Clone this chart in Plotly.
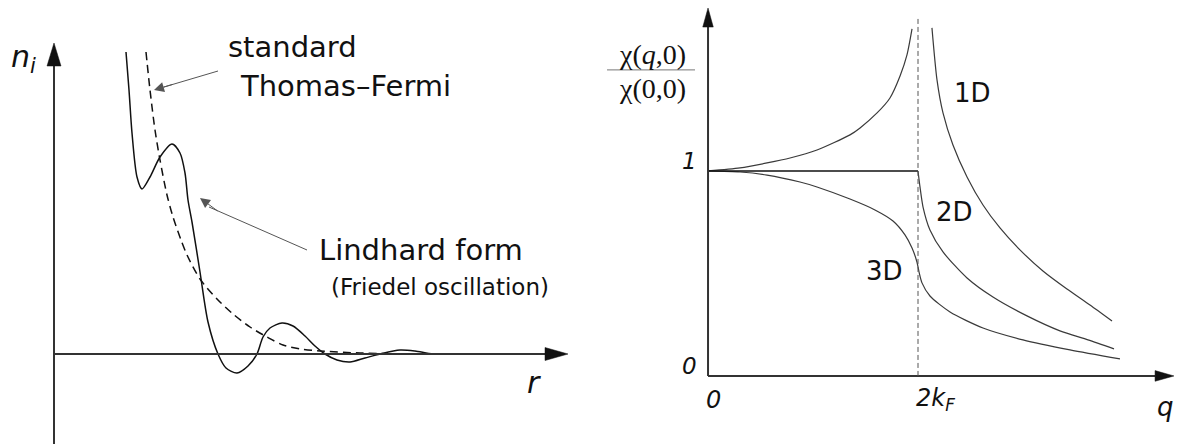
import plotly.graph_objects as go

# ---------------- left panel: induced density n_i(r) ----------------
lind_r = [1.44, 1.50, 1.56, 1.66, 1.76, 1.92, 2.12, 2.36, 2.52, 2.62, 2.68, 2.76,
          2.92, 3.08, 3.28, 3.44, 3.66, 3.88, 4.06, 4.18, 4.32, 4.56, 4.78, 5.02,
          5.22, 5.42, 5.66, 5.92, 6.22, 6.52, 6.92, 7.22, 7.58, 8.12]
lind_n = [3.02, 2.64, 2.21, 1.77, 1.65, 1.77, 1.97, 2.10, 2.01, 1.81, 1.54, 1.32,
          0.82, 0.32, 0.00, -0.14, -0.19, -0.12, 0.00, 0.17, 0.26, 0.31, 0.28, 0.18,
          0.08, 0.00, -0.06, -0.08, -0.04, 0.00, 0.04, 0.03, 0.00, 0.00]

tf_r = [1.84, 1.92, 2.02, 2.12, 2.26, 2.38, 2.54, 2.66, 2.92, 3.26, 3.58, 3.92,
        4.26, 4.58, 4.92, 5.32, 6.12, 6.92]
tf_n = [3.02, 2.64, 2.24, 1.94, 1.59, 1.37, 1.14, 0.99, 0.75, 0.55, 0.40, 0.27,
        0.17, 0.09, 0.05, 0.03, 0.01, 0.00]

# ---------------- right panel: static susceptibility chi(q,0)/chi(0,0) ----------------
d1_left_q = [0.0, 0.305, 0.562, 0.781, 1.038, 1.352, 1.448, 1.610, 1.733, 1.829, 1.895, 1.943]
d1_left_y = [1.0, 1.015, 1.039, 1.063, 1.102, 1.176, 1.210, 1.283, 1.356, 1.463, 1.566, 1.693]
d1_right_q = [2.133, 2.181, 2.238, 2.333, 2.467, 2.619, 2.781, 2.971, 3.190, 3.419, 3.638, 3.848]
d1_right_y = [1.698, 1.444, 1.283, 1.127, 0.971, 0.834, 0.722, 0.615, 0.512, 0.424, 0.346, 0.268]

d2_flat_q = [0.0, 2.0]
d2_flat_y = [1.0, 1.0]
d2_q = [2.0, 2.019, 2.048, 2.114, 2.238, 2.467, 2.714, 3.038, 3.352, 3.619, 3.867]
d2_y = [1.0, 0.922, 0.824, 0.712, 0.605, 0.478, 0.385, 0.293, 0.220, 0.176, 0.132]

d3_q = [0.0, 0.305, 0.562, 0.876, 1.038, 1.352, 1.590, 1.762, 1.876, 1.943, 1.990,
        2.010, 2.038, 2.114, 2.305, 2.619, 3.0, 3.448, 3.924]
d3_y = [1.0, 0.995, 0.980, 0.946, 0.922, 0.863, 0.810, 0.756, 0.688, 0.624, 0.556,
        0.507, 0.454, 0.390, 0.312, 0.234, 0.176, 0.127, 0.083]

q_ticks = [0, 2]
q_tick_text = ["<i>0</i>", "<i>2k<sub>F</sub></i>"]
chi_ticks = [0, 1]
chi_tick_text = ["<i>0</i>", "<i>1</i>"]

W, H = 1177, 444
SANS = "DejaVu Sans"
SERIF = "Liberation Serif"
AX = "#333333"

fig = go.Figure()

# left curves
fig.add_trace(go.Scatter(x=tf_r, y=tf_n, mode="lines", xaxis="x", yaxis="y",
                         line=dict(color="#111111", width=1.5, dash="8px,5px", shape="spline", smoothing=0.8),
                         hoverinfo="skip", cliponaxis=False))
fig.add_trace(go.Scatter(x=lind_r, y=lind_n, mode="lines", xaxis="x", yaxis="y",
                         line=dict(color="#111111", width=1.5, shape="spline", smoothing=0.8),
                         hoverinfo="skip", cliponaxis=False))

# right curves
curve_style = dict(color="#3a3a3a", width=1.2, shape="spline", smoothing=0.7)
for qs, ys in [(d1_left_q, d1_left_y), (d1_right_q, d1_right_y), (d3_q, d3_y), (d2_q, d2_y)]:
    fig.add_trace(go.Scatter(x=qs, y=ys, mode="lines", xaxis="x2", yaxis="y2",
                             line=curve_style, hoverinfo="skip", cliponaxis=False))
fig.add_trace(go.Scatter(x=d2_flat_q, y=d2_flat_y, mode="lines", xaxis="x2", yaxis="y2",
                         line=dict(color="#111111", width=1.6), hoverinfo="skip", cliponaxis=False))

shapes = []
annotations = []


def axis_arrow(xref, yref, x0, y0, x1, y1, head_len, head_half, vertical):
    """Axis line from (x0,y0) to the tip (x1,y1) with a filled triangular head."""
    if vertical:
        base = y1 - head_len
        shapes.append(dict(type="line", xref=xref, yref=yref, x0=x0, y0=y0, x1=x1, y1=base,
                           line=dict(color=AX, width=2)))
        path = f"M {x1},{y1} L {x1 - head_half},{base} L {x1 + head_half},{base} Z"
    else:
        base = x1 - head_len
        shapes.append(dict(type="line", xref=xref, yref=yref, x0=x0, y0=y0, x1=base, y1=y1,
                           line=dict(color=AX, width=2)))
        path = f"M {x1},{y1} L {base},{y1 - head_half} L {base},{y1 + head_half} Z"
    shapes.append(dict(type="path", xref=xref, yref=yref, path=path,
                       fillcolor="#111111", line=dict(color="#111111", width=0.5)))


# left axes (r: 50 px per unit, n: 100 px per unit)
axis_arrow("x", "y", 0, -0.90, 0, 3.11, 0.23, 0.14, True)
axis_arrow("x", "y", 0, 0, 10.28, 0, 0.46, 0.065, False)
# right axes (q: 105 px per unit, chi: 205 px per unit)
axis_arrow("x2", "y2", 0, 0, 0, 1.795, 0.093, 0.05, True)
axis_arrow("x2", "y2", 0, 0, 4.438, 0, 0.18, 0.026, False)

# 2k_F marker
shapes.append(dict(type="line", xref="x2", yref="y2", x0=2, x1=2, y0=0, y1=1.751,
                   line=dict(color="#555555", width=1, dash="5px,3px")))
# fraction bar of the axis label
shapes.append(dict(type="line", xref="x2", yref="y2", x0=-0.962, x1=-0.124, y0=1.493, y1=1.493,
                   line=dict(color="#777777", width=1)))

# pointer arrows to the two curves
shapes.append(dict(type="line", xref="x", yref="y", x0=3.28, y0=2.83, x1=2.2, y1=2.67,
                   line=dict(color="#555555", width=1)))
shapes.append(dict(type="line", xref="x", yref="y", x0=5.06, y0=1.04, x1=3.1, y1=1.47,
                   line=dict(color="#555555", width=1)))

# left text
annotations += [
    dict(x=-0.62, y=2.96, xref="x", yref="y", text="<i>n<sub>i</sub></i>", showarrow=False,
         font=dict(family=SANS, size=30, color="#111111")),
    dict(x=9.6, y=-0.28, xref="x", yref="y", text="<i>r</i>", showarrow=False,
         font=dict(family=SANS, size=30, color="#111111")),
    dict(x=3.44, y=3.07, xref="x", yref="y", text="standard", showarrow=False, xanchor="left",
         font=dict(family=SANS, size=29, color="#111111")),
    dict(x=3.68, y=2.68, xref="x", yref="y", text="Thomas–Fermi", showarrow=False, xanchor="left",
         font=dict(family=SANS, size=29, color="#111111")),
    dict(x=5.26, y=1.04, xref="x", yref="y", text="Lindhard form", showarrow=False, xanchor="left",
         font=dict(family=SANS, size=29, color="#111111")),
    dict(x=5.50, y=0.67, xref="x", yref="y", text="(Friedel oscillation)", showarrow=False,
         xanchor="left", font=dict(family=SANS, size=23, color="#111111")),
    # arrowheads of the pointers
    dict(x=2.0, y=2.64, xref="x", yref="y", ax=2.4, ay=2.70, axref="x", ayref="y", text="",
         showarrow=True, arrowhead=2, arrowsize=2, arrowwidth=1, arrowcolor="#555555"),
    dict(x=2.92, y=1.56, xref="x", yref="y", ax=3.3, ay=1.42, axref="x", ayref="y", text="",
         showarrow=True, arrowhead=2, arrowsize=2, arrowwidth=1, arrowcolor="#555555"),
]

# right text
for v, t in zip(q_ticks, q_tick_text):
    annotations.append(dict(x=v, y=-0.115, xref="x2", yref="y2", text=t, showarrow=False,
                            xanchor="left", xshift=-4,
                            font=dict(family=SANS, size=24, color="#111111")))
for v, t in zip(chi_ticks, chi_tick_text):
    annotations.append(dict(x=-0.18, y=v + 0.05, xref="x2", yref="y2", text=t, showarrow=False,
                            font=dict(family=SANS, size=23, color="#111111")))
annotations += [
    dict(x=4.257, y=-0.15, xref="x2", yref="y2", text="<i>q</i>", showarrow=False, xanchor="left",
         font=dict(family=SANS, size=26, color="#111111")),
    dict(x=-0.533, y=1.57, xref="x2", yref="y2", text="χ(<i>q</i>,0)", showarrow=False,
         font=dict(family=SERIF, size=28, color="#111111")),
    dict(x=-0.533, y=1.40, xref="x2", yref="y2", text="χ(0,0)", showarrow=False,
         font=dict(family=SERIF, size=28, color="#111111")),
    dict(x=2.52, y=1.38, xref="x2", yref="y2", text="1D", showarrow=False,
         font=dict(family=SANS, size=26, color="#111111")),
    dict(x=2.35, y=0.80, xref="x2", yref="y2", text="2D", showarrow=False,
         font=dict(family=SANS, size=26, color="#111111")),
    dict(x=1.68, y=0.51, xref="x2", yref="y2", text="3D", showarrow=False,
         font=dict(family=SANS, size=26, color="#111111")),
]

hidden = dict(visible=False, showgrid=False, zeroline=False, fixedrange=True)
fig.update_layout(
    width=W, height=H,
    margin=dict(l=0, r=0, t=0, b=0),
    paper_bgcolor="white", plot_bgcolor="white",
    showlegend=False,
    xaxis=dict(domain=[0, 600 / W], range=[-1.08, 10.92], anchor="y", **hidden),
    yaxis=dict(domain=[0, 1], range=[-0.90, 3.54], anchor="x", **hidden),
    xaxis2=dict(domain=[600 / W, 1], range=[-1.029, 4.467], anchor="y2", **hidden),
    yaxis2=dict(domain=[0, 1], range=[-0.332, 1.834], anchor="x2", **hidden),
    shapes=shapes,
    annotations=annotations,
)

fig.write_html("out.html")
